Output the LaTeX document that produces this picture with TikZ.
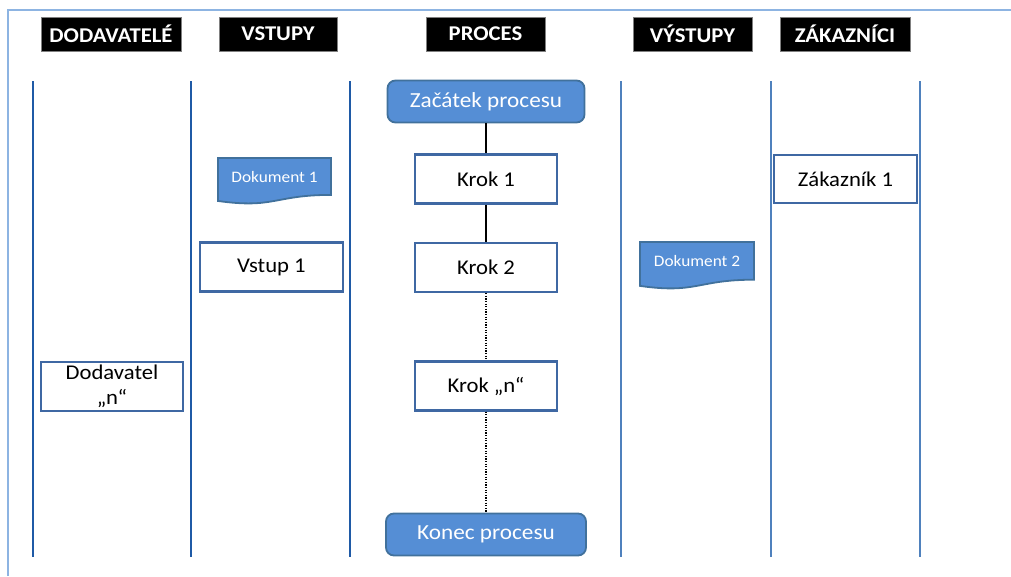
\documentclass[tikz,border=0pt]{standalone}
\usepackage{fontspec}
\setmainfont{Carlito}[FakeStretch=1.08]
\definecolor{framecol}{HTML}{8DB4E2}
\definecolor{lanedark}{HTML}{1F5AA6}
\definecolor{lanelight}{HTML}{4F81BD}
\definecolor{boxedge}{HTML}{3F68A3}
\definecolor{bluefill}{HTML}{558ED5}
\definecolor{blueedge}{HTML}{41719C}
\definecolor{hdredge}{HTML}{808080}
\newcommand{\docpath}[4]{% x0, y0, w, h : document flowchart shape
  \draw[docbox] (#1,#2) -- ({#1+#3},#2) -- ({#1+#3},{#2+0.802*#4})
    .. controls ({#1+0.5*#3},{#2+0.802*#4}) and ({#1+0.5*#3},{#2+1.107*#4}) ..
    (#1,{#2+0.934*#4}) -- cycle;}
\begin{document}
\begin{tikzpicture}[x=1pt,y=-1pt,
  hdr/.style={draw=hdredge,line width=0.8pt,fill=black,text=white,
    font=\fontsize{21}{24}\selectfont\bfseries,minimum height=34,inner sep=0pt},
  stepbox/.style={draw=boxedge,line width=2.2pt,fill=white,
    font=\fontsize{21}{25}\selectfont,minimum width=142,minimum height=49,
    inner sep=0pt,align=center},
  termbox/.style={draw=blueedge,line width=1.8pt,fill=bluefill,text=white,
    rounded corners=8pt,font=\fontsize{21.5}{24}\selectfont,
    minimum height=42,inner sep=0pt},
  docbox/.style={draw=blueedge,line width=1.8pt,fill=bluefill},
  doctext/.style={text=white,font=\fontsize{16}{18}\selectfont,inner sep=0pt},
  lane/.style={line width=1.4pt},
  link/.style={line width=1.6pt,black},
  dotlink/.style={line width=2pt,black,dash pattern=on 1.2pt off 1.4pt}]
\useasboundingbox (0,0) rectangle (1011,576);
% outer frame, open to the right and bottom
\draw[framecol,line width=2pt] (7.5,576) -- (7.5,10) -- (1011,10);
% lane separators
\foreach \xx in {33,191,350} \draw[lane,lanedark] (\xx,81) -- (\xx,557);
\foreach \xx in {621,771,920} \draw[lane,lanelight] (\xx,81) -- (\xx,557);
% column headings
\node[hdr,minimum width=140] (h1) at (111,34) {DODAVATELÉ};
\node[hdr,minimum width=118] (h2) at (278,34) {VSTUPY};
\node[hdr,minimum width=119] (h3) at (485.5,34) {PROCES};
\node[hdr,minimum width=119] (h4) at (692.5,34) {VÝSTUPY};
\node[hdr,minimum width=130] (h5) at (845,34) {ZÁKAZNÍCI};
% process column
\node[termbox,minimum width=197] (start) at (486,101.5) {Začátek procesu};
\node[stepbox] (k1) at (486,179) {Krok 1};
\node[stepbox] (k2) at (486,267.5) {Krok 2};
\node[stepbox] (kn) at (486,386) {Krok „n“};
\node[termbox,minimum width=200] (end) at (486,534.5) {Konec procesu};
\draw[link] (start.south) -- (k1.north);
\draw[link] (k1.south) -- (k2.north);
\draw[dotlink] (k2.south) -- (kn.north);
\draw[dotlink] (kn.south) -- (end.north);
% suppliers, inputs, customers
\node[stepbox] (dod) at (112,386.5) {Dodavatel\\„n“};
\node[stepbox,minimum width=143] (v1) at (271.5,267) {Vstup 1};
\node[stepbox,minimum width=143,minimum height=48] (z1) at (845.5,179) {Zákazník 1};
% documents
\docpath{218}{158}{113}{46}
\node[doctext] (d1) at (274.5,176.5) {Dokument 1};
\docpath{640}{242}{114}{47}
\node[doctext] (d2) at (697,261) {Dokument 2};
\end{tikzpicture}
\end{document}
